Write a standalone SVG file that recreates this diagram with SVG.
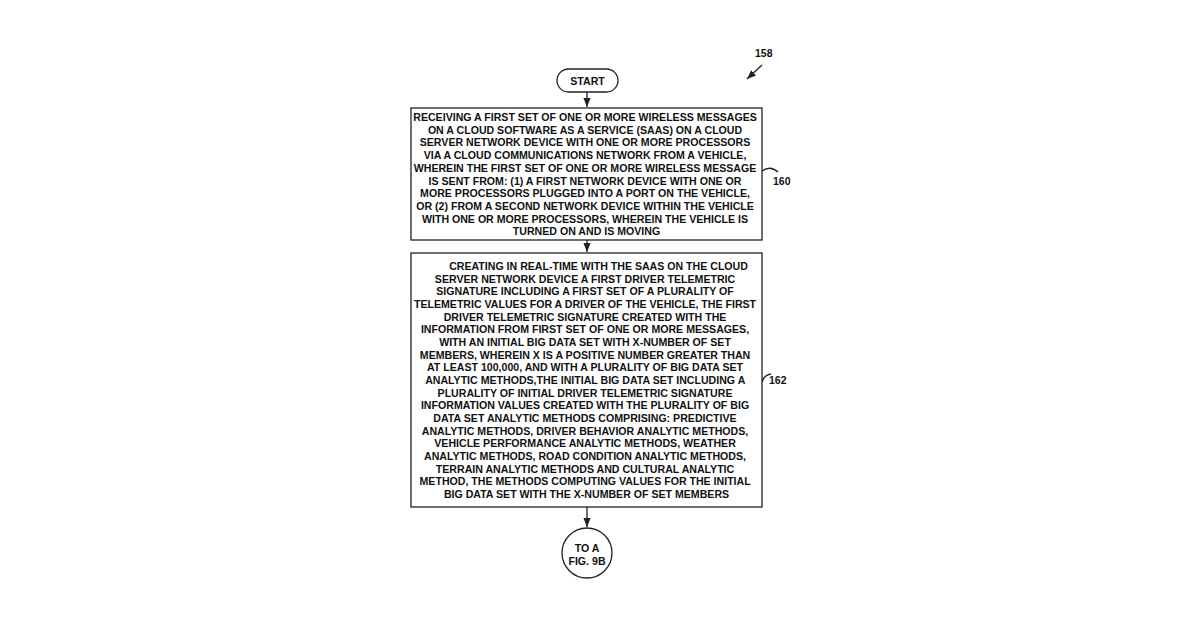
<svg xmlns="http://www.w3.org/2000/svg" width="1200" height="630" viewBox="0 0 1200 630">
<style>
text{font-family:"Liberation Sans",Arial,sans-serif;font-weight:bold;font-size:10.6px;fill:#111;text-anchor:middle}
.b{fill:#fff;stroke:#222;stroke-width:1.3}
.c{stroke:#222;stroke-width:1.3;fill:none}
.r{text-anchor:start;font-size:10.5px}
</style>
<defs><marker id="a" viewBox="0 0 10 10" refX="10" refY="5" markerWidth="7" markerHeight="7" orient="auto"><path d="M0,1L10,5L0,9z" fill="#222"/></marker></defs>
<rect width="1200" height="630" fill="#fff"/>
<g id="connectors">
<line class="c" x1="587" y1="92" x2="587" y2="107" marker-end="url(#a)"/>
<line class="c" x1="587" y1="240" x2="587" y2="252" marker-end="url(#a)"/>
<line class="c" x1="587" y1="507" x2="587" y2="527" marker-end="url(#a)"/>
<line class="c" x1="762" y1="65" x2="747" y2="79" marker-end="url(#a)"/>
<path class="c" d="M762,171 Q770,165 778,172"/>
<path class="c" d="M762,382 Q764,375 771,374"/>
</g>
<text class="r" x="755" y="57">158</text>
<text class="r" x="773" y="185">160</text>
<text class="r" x="769" y="384">162</text>
<g id="start"><rect class="b" x="557" y="69" width="61" height="23" rx="11.5"/><text x="587.5" y="84.5">START</text></g>
<g id="n160"><rect class="b" x="411" y="108" width="351" height="132"/>
<text>
<tspan x="586.5" y="121">RECEIVING A FIRST SET OF ONE OR MORE WIRELESS MESSAGES</tspan>
<tspan x="586.5" y="133.7">ON A CLOUD SOFTWARE AS A SERVICE (SAAS) ON A CLOUD</tspan>
<tspan x="586.5" y="146.4">SERVER NETWORK DEVICE WITH ONE OR MORE PROCESSORS</tspan>
<tspan x="586.5" y="159.1">VIA A CLOUD COMMUNICATIONS NETWORK FROM A VEHICLE,</tspan>
<tspan x="586.5" y="171.8">WHEREIN THE FIRST SET OF ONE OR MORE WIRELESS MESSAGE</tspan>
<tspan x="586.5" y="184.5">IS SENT FROM: (1) A FIRST NETWORK DEVICE WITH ONE OR</tspan>
<tspan x="586.5" y="197.2">MORE PROCESSORS PLUGGED INTO A PORT ON THE VEHICLE,</tspan>
<tspan x="586.5" y="209.9">OR (2) FROM A SECOND NETWORK DEVICE WITHIN THE VEHICLE</tspan>
<tspan x="586.5" y="222.6">WITH ONE OR MORE PROCESSORS, WHEREIN THE VEHICLE IS</tspan>
<tspan x="586.5" y="235.3">TURNED ON AND IS MOVING</tspan>
</text></g>
<g id="n162"><rect class="b" x="411" y="253" width="351" height="254"/>
<text>
<tspan x="600" y="270">CREATING IN REAL-TIME WITH THE SAAS ON THE CLOUD</tspan>
<tspan x="586.5" y="282.67">SERVER NETWORK DEVICE A FIRST DRIVER TELEMETRIC</tspan>
<tspan x="586.5" y="295.33">SIGNATURE INCLUDING A FIRST SET OF A PLURALITY OF</tspan>
<tspan x="586.5" y="308">TELEMETRIC VALUES FOR A DRIVER OF THE VEHICLE, THE FIRST</tspan>
<tspan x="586.5" y="320.67">DRIVER TELEMETRIC SIGNATURE CREATED WITH THE</tspan>
<tspan x="586.5" y="333.33">INFORMATION FROM FIRST SET OF ONE OR MORE MESSAGES,</tspan>
<tspan x="586.5" y="346">WITH AN INITIAL BIG DATA SET WITH X-NUMBER OF SET</tspan>
<tspan x="586.5" y="358.67">MEMBERS, WHEREIN X IS A POSITIVE NUMBER GREATER THAN</tspan>
<tspan x="586.5" y="371.33">AT LEAST 100,000, AND WITH A PLURALITY OF BIG DATA SET</tspan>
<tspan x="586.5" y="384">ANALYTIC METHODS,THE INITIAL BIG DATA SET INCLUDING A</tspan>
<tspan x="586.5" y="396.67">PLURALITY OF INITIAL DRIVER TELEMETRIC SIGNATURE</tspan>
<tspan x="586.5" y="409.33">INFORMATION VALUES CREATED WITH THE PLURALITY OF BIG</tspan>
<tspan x="586.5" y="422">DATA SET ANALYTIC METHODS COMPRISING: PREDICTIVE</tspan>
<tspan x="586.5" y="434.67">ANALYTIC METHODS, DRIVER BEHAVIOR ANALYTIC METHODS,</tspan>
<tspan x="586.5" y="447.33">VEHICLE PERFORMANCE ANALYTIC METHODS, WEATHER</tspan>
<tspan x="586.5" y="460">ANALYTIC METHODS, ROAD CONDITION ANALYTIC METHODS,</tspan>
<tspan x="586.5" y="472.67">TERRAIN ANALYTIC METHODS AND CULTURAL ANALYTIC</tspan>
<tspan x="586.5" y="485.33">METHOD, THE METHODS COMPUTING VALUES FOR THE INITIAL</tspan>
<tspan x="586.5" y="498">BIG DATA SET WITH THE X-NUMBER OF SET MEMBERS</tspan>
</text></g>
<g id="toA"><circle class="b" cx="587" cy="553" r="25"/><text><tspan x="587" y="552">TO A</tspan><tspan x="587" y="565">FIG. 9B</tspan></text></g>
</svg>
